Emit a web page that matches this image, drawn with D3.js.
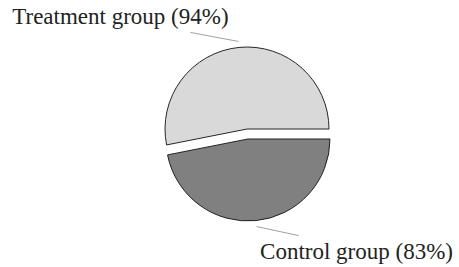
<!DOCTYPE html>
<html>
<head>
<meta charset="utf-8">
<script src="https://cdn.jsdelivr.net/npm/d3@7"></script>
<style>
  body { margin: 0; background: #fff; }
  text { font-family: 'Liberation Serif', serif; fill: #222; }
</style>
</head>
<body>
<div class="dataviz"></div>
<script>
// data, ordered clockwise from 3 o'clock
const groups = ['Control group', 'Treatment group']
const percents = [83, 94]
const colors = ['#808080', '#d9d9d9']

const width = 459
const height = 267
const center = [247.5, 134]
const radius = 82
const explode = 5

const svg = d3.select('.dataviz').append('svg')
  .attr('width', width).attr('height', height)

const rows = groups.map((g, i) => ({ group: g, value: percents[i], color: colors[i] }))

const pie = d3.pie()
  .sort(null)
  .value(d => d.value)
  .startAngle(Math.PI / 2)
  .endAngle(Math.PI / 2 + 2 * Math.PI)

const arc = d3.arc().innerRadius(0).outerRadius(radius)

const slices = pie(rows)

// unit vector for a d3 angle (clockwise from north)
const dir = a => [Math.sin(a), -Math.cos(a)]

const g = svg.append('g').attr('transform', `translate(${center[0]}, ${center[1]})`)

g.selectAll('path')
  .data(slices)
  .enter()
  .append('path')
  .attr('transform', d => {
    const [ux, uy] = dir((d.startAngle + d.endAngle) / 2)
    return `translate(${ux * explode}, ${uy * explode})`
  })
  .attr('d', arc)
  .attr('fill', d => d.data.color)
  .attr('stroke', '#111')
  .attr('stroke-width', 0.9)

// leader lines + labels
const leader = [[42, 9], [-48, -9]]
slices.forEach((d, i) => {
  const mid = (d.startAngle + d.endAngle) / 2
  const [ux, uy] = dir(mid)
  const x1 = ux * (radius + 6 + explode)
  const y1 = uy * (radius + 6 + explode)
  const x2 = x1 + leader[i][0]
  const y2 = y1 + leader[i][1]
  g.append('line')
    .attr('x1', x1).attr('y1', y1)
    .attr('x2', x2).attr('y2', y2)
    .attr('stroke', '#888')
    .attr('stroke-width', 0.8)
  const below = uy > 0
  g.append('text')
    .attr('x', below ? x2 + 58 : x2 - 70)
    .attr('y', below ? y2 + 23 : y2 - 8)
    .attr('text-anchor', 'middle')
    .attr('font-size', 23)
    .text(`${d.data.group} (${d.data.value}%)`)
})
</script>
</body>
</html>
